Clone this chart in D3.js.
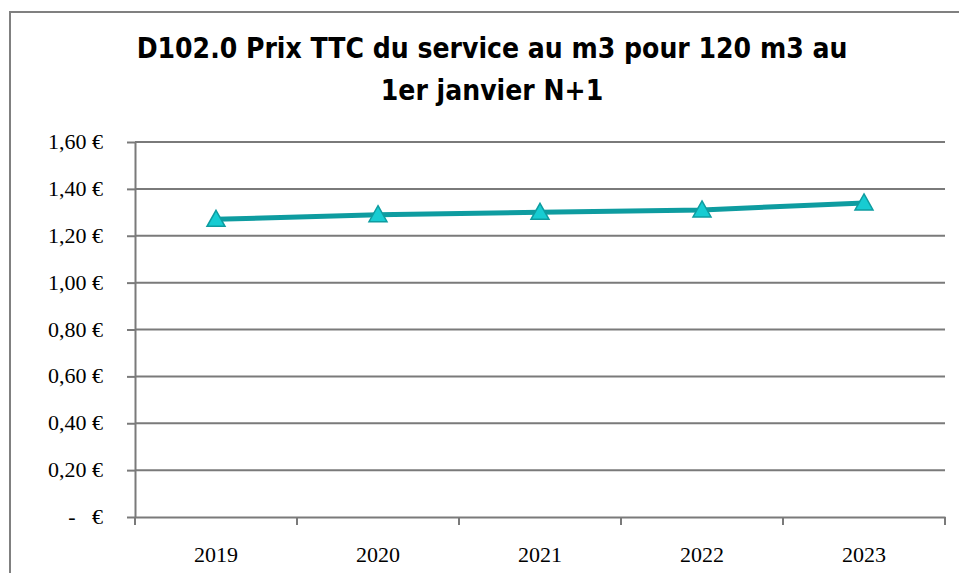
<!DOCTYPE html>
<html><head><meta charset="utf-8">
<script src="https://cdn.jsdelivr.net/npm/d3@7"></script>
<style>body{margin:0;background:#fff;} svg{display:block;}</style>
</head><body>
<script>
const categories = ["2019","2020","2021","2022","2023"];
const values = [1.27, 1.29, 1.30, 1.31, 1.34];
const yTicks = [0, 0.2, 0.4, 0.6, 0.8, 1.0, 1.2, 1.4, 1.6];
const titleLines = ["D102.0 Prix TTC du service au m3 pour 120 m3 au", "1er janvier N+1"];

(function () {
const W = 959, H = 573;
const svg = d3.select("body").append("svg").attr("width", W).attr("height", H);
svg.append("rect").attr("x", 10).attr("y", 12).attr("width", 960).attr("height", 600)
  .attr("fill", "#fff").attr("stroke", "#808080").attr("stroke-width", 2);

const pLeft = 135, pRight = 945, pTop = 142, pBottom = 517;
const x = d3.scaleBand().domain(categories).range([pLeft, pRight]);
const y = d3.scaleLinear().domain([0, 1.6]).range([pBottom, pTop]);

// gridlines
svg.append("g").selectAll("line").data(yTicks.filter(d => d > 0)).join("line")
  .attr("x1", pLeft).attr("x2", pRight).attr("y1", d => y(d)).attr("y2", d => y(d))
  .attr("stroke", "#7a7a7a").attr("stroke-width", 2);

const fmt = d => d === 0 ? "-   €" : d3.format(".2f")(d).replace(".", ",") + " €";
const yAxis = svg.append("g").attr("transform", `translate(${pLeft},0)`)
  .call(d3.axisLeft(y).tickValues(yTicks).tickSize(8).tickSizeOuter(0).tickFormat(fmt));
yAxis.select(".domain").attr("stroke", "#7a7a7a").attr("stroke-width", 2);
yAxis.selectAll(".tick line").attr("stroke", "#7a7a7a").attr("stroke-width", 2);
yAxis.selectAll("text").attr("x", -32).attr("dy", "0.3em").attr("font-family", "Liberation Serif, serif")
  .attr("font-size", 22).attr("fill", "#000").style("white-space", "pre");

const xAxis = svg.append("g").attr("transform", `translate(0,${pBottom})`)
  .call(d3.axisBottom(x).tickSize(0).tickSizeOuter(0));
xAxis.select(".domain").attr("stroke", "#7a7a7a").attr("stroke-width", 2);
xAxis.selectAll("text").attr("dy", 0).attr("y", 45).attr("font-family", "Liberation Serif, serif")
  .attr("font-size", 22).attr("fill", "#000");
// category boundary ticks
const bounds = categories.map(c => x(c)).concat([x(categories[categories.length-1]) + x.bandwidth()]);
svg.append("g").selectAll("line").data(bounds).join("line")
  .attr("x1", d => d).attr("x2", d => d).attr("y1", pBottom).attr("y2", pBottom + 8)
  .attr("stroke", "#7a7a7a").attr("stroke-width", 2);

// line
const cx = c => x(c) + x.bandwidth() / 2;
svg.append("path").datum(values)
  .attr("d", d3.line().x((d, i) => cx(categories[i])).y(d => y(d)))
  .attr("fill", "none").attr("stroke", "#0e9ca0").attr("stroke-width", 5);

svg.append("g").selectAll("path").data(values).join("path")
  .attr("transform", (d, i) => `translate(${cx(categories[i])},${y(d)})`)
  .attr("d", "M0,-9 L9,7 L-9,7 Z")
  .attr("fill", "#17ccd2").attr("stroke", "#0e9ca0").attr("stroke-width", 1.5);

// title
svg.append("g").selectAll("text").data(titleLines).join("text")
  .attr("x", 492).attr("y", (d, i) => 58 + i * 42)
  .attr("text-anchor", "middle")
  .attr("font-family", "Liberation Sans Narrow, DejaVu Sans Condensed, sans-serif")
  .attr("font-weight", "bold").attr("font-size", 28).attr("fill", "#000")
  .text(d => d);
})();
</script>
</body></html>
